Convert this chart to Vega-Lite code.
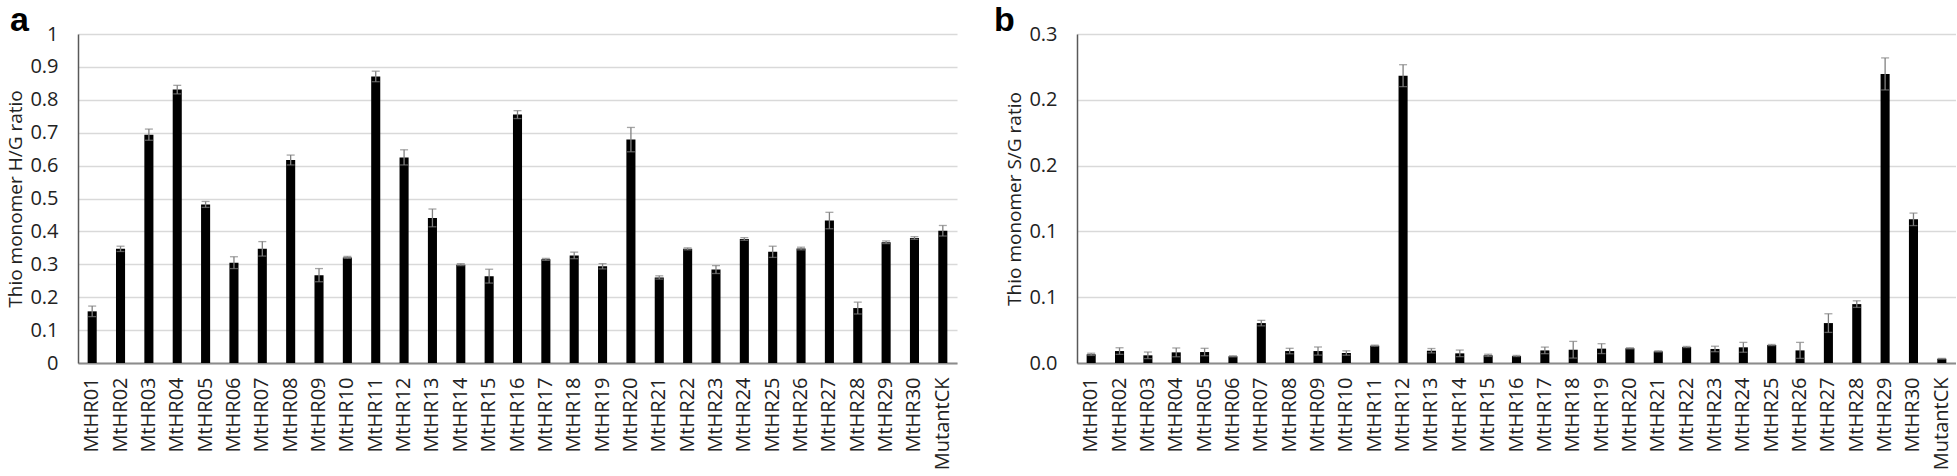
{
  "$schema": "https://vega.github.io/schema/vega-lite/v6.json",
  "background": "white",
  "padding": {"left": 6, "top": 4, "right": 0, "bottom": 0},
  "bounds": "flush",
  "spacing": 120,
  "config": {
    "font": "Open Sans",
    "view": {"stroke": null},
    "axisY": {
      "grid": true, "gridColor": "#d9d9d9", "gridWidth": 1.5,
      "domain": true, "domainColor": "#595959", "domainWidth": 1.5,
      "ticks": false, "labelFontSize": 20, "labelPadding": 20, "labelColor": "#222222", "labelOverlap": false,
      "titleFontSize": 19, "titleFontWeight": "normal", "titleColor": "#222222", "titlePadding": 4
    },
    "axisX": {
      "grid": false, "domainColor": "#8c8c8c", "domainWidth": 2, "ticks": false,
      "labelAngle": -90, "labelFontSize": 20, "labelPadding": 14, "labelColor": "#222222", "title": null, "labelOverlap": false
    },
    "title": {"fontSize": 34, "fontWeight": "bold", "font": "Liberation Sans", "color": "black", "anchor": "start", "frame": "bounds", "offset": -12, "baseline": "alphabetic"}
  },
  "datasets": {
    "hg": [
      {"name": "MtHR01", "value": 0.157, "err": 0.016},
      {"name": "MtHR02", "value": 0.347, "err": 0.008},
      {"name": "MtHR03", "value": 0.694, "err": 0.017},
      {"name": "MtHR04", "value": 0.831, "err": 0.013},
      {"name": "MtHR05", "value": 0.482, "err": 0.009},
      {"name": "MtHR06", "value": 0.305, "err": 0.018},
      {"name": "MtHR07", "value": 0.347, "err": 0.022},
      {"name": "MtHR08", "value": 0.617, "err": 0.015},
      {"name": "MtHR09", "value": 0.267, "err": 0.02},
      {"name": "MtHR10", "value": 0.321, "err": 0.003},
      {"name": "MtHR11", "value": 0.871, "err": 0.016},
      {"name": "MtHR12", "value": 0.625, "err": 0.023},
      {"name": "MtHR13", "value": 0.441, "err": 0.027},
      {"name": "MtHR14", "value": 0.299, "err": 0.003},
      {"name": "MtHR15", "value": 0.264, "err": 0.021},
      {"name": "MtHR16", "value": 0.755, "err": 0.012},
      {"name": "MtHR17", "value": 0.315, "err": 0.003},
      {"name": "MtHR18", "value": 0.327, "err": 0.01},
      {"name": "MtHR19", "value": 0.294, "err": 0.008},
      {"name": "MtHR20", "value": 0.679, "err": 0.037},
      {"name": "MtHR21", "value": 0.26, "err": 0.005},
      {"name": "MtHR22", "value": 0.347, "err": 0.003},
      {"name": "MtHR23", "value": 0.284, "err": 0.012},
      {"name": "MtHR24", "value": 0.377, "err": 0.004},
      {"name": "MtHR25", "value": 0.338, "err": 0.017},
      {"name": "MtHR26", "value": 0.348, "err": 0.004},
      {"name": "MtHR27", "value": 0.433, "err": 0.025},
      {"name": "MtHR28", "value": 0.167, "err": 0.018},
      {"name": "MtHR29", "value": 0.367, "err": 0.004},
      {"name": "MtHR30", "value": 0.38, "err": 0.004},
      {"name": "MutantCK", "value": 0.402, "err": 0.016}
    ],
    "sg": [
      {"name": "MtHR01", "value": 0.0079, "err": 0.001},
      {"name": "MtHR02", "value": 0.0109, "err": 0.003},
      {"name": "MtHR03", "value": 0.007, "err": 0.003},
      {"name": "MtHR04", "value": 0.0097, "err": 0.004},
      {"name": "MtHR05", "value": 0.01, "err": 0.0034},
      {"name": "MtHR06", "value": 0.0061, "err": 0.0005},
      {"name": "MtHR07", "value": 0.0364, "err": 0.0025},
      {"name": "MtHR08", "value": 0.0109, "err": 0.0025},
      {"name": "MtHR09", "value": 0.0109, "err": 0.0037},
      {"name": "MtHR10", "value": 0.0091, "err": 0.002},
      {"name": "MtHR11", "value": 0.0158, "err": 0.0005},
      {"name": "MtHR12", "value": 0.262, "err": 0.01},
      {"name": "MtHR13", "value": 0.0112, "err": 0.002},
      {"name": "MtHR14", "value": 0.0088, "err": 0.003},
      {"name": "MtHR15", "value": 0.007, "err": 0.001},
      {"name": "MtHR16", "value": 0.0064, "err": 0.0005},
      {"name": "MtHR17", "value": 0.0115, "err": 0.003},
      {"name": "MtHR18", "value": 0.0121, "err": 0.0076},
      {"name": "MtHR19", "value": 0.0131, "err": 0.0045},
      {"name": "MtHR20", "value": 0.0134, "err": 0.0005},
      {"name": "MtHR21", "value": 0.0106, "err": 0.0005},
      {"name": "MtHR22", "value": 0.0146, "err": 0.0005},
      {"name": "MtHR23", "value": 0.0128, "err": 0.0025},
      {"name": "MtHR24", "value": 0.0143, "err": 0.0045},
      {"name": "MtHR25", "value": 0.0164, "err": 0.0005},
      {"name": "MtHR26", "value": 0.0115, "err": 0.0073},
      {"name": "MtHR27", "value": 0.0364, "err": 0.0085},
      {"name": "MtHR28", "value": 0.0537, "err": 0.003},
      {"name": "MtHR29", "value": 0.2636, "err": 0.0146},
      {"name": "MtHR30", "value": 0.131, "err": 0.0057},
      {"name": "MutantCK", "value": 0.0039, "err": 0.0003}
    ]
  },
  "hconcat": [
    {
      "title": {"text": "a", "dx": 3, "dy": 2},
      "width": 879, "height": 329,
      "data": {"name": "hg"},
      "layer": [
        {
          "mark": {"type": "bar", "color": "black", "width": {"band": 0.32}},
          "encoding": {
            "x": {"field": "name", "type": "nominal", "sort": null, "scale": {"paddingInner": 0, "paddingOuter": 0}},
            "y": {"field": "value", "type": "quantitative", "title": "Thio monomer H/G ratio", "scale": {"domain": [0, 1], "nice": false},
                  "axis": {"values": [0, 0.1, 0.2, 0.3, 0.4, 0.5, 0.6, 0.7, 0.8, 0.9, 1], "tickCount": 11, "format": "~f", "labelOverlap": false}}
          }
        },
        {
          "mark": {"type": "errorbar", "color": "#808080", "thickness": 1.3, "ticks": {"size": 8, "color": "#808080"}},
          "encoding": {
            "x": {"field": "name", "type": "nominal", "sort": null},
            "y": {"field": "value", "type": "quantitative", "title": "Thio monomer H/G ratio"},
            "yError": {"field": "err"}
          }
        }
      ]
    },
    {
      "title": {"text": "b", "dx": -12, "dy": 2},
      "width": 879, "height": 329,
      "data": {"name": "sg"},
      "layer": [
        {
          "mark": {"type": "bar", "color": "black", "width": {"band": 0.32}},
          "encoding": {
            "x": {"field": "name", "type": "nominal", "sort": null, "scale": {"paddingInner": 0, "paddingOuter": 0}},
            "y": {"field": "value", "type": "quantitative", "title": "Thio monomer S/G ratio", "scale": {"domain": [0, 0.3], "nice": false},
                  "axis": {"values": [0, 0.06, 0.12, 0.18, 0.24, 0.3], "tickCount": 6, "format": ".1f", "labelOverlap": false}}
          }
        },
        {
          "mark": {"type": "errorbar", "color": "#808080", "thickness": 1.3, "ticks": {"size": 8, "color": "#808080"}},
          "encoding": {
            "x": {"field": "name", "type": "nominal", "sort": null},
            "y": {"field": "value", "type": "quantitative", "title": "Thio monomer S/G ratio"},
            "yError": {"field": "err"}
          }
        }
      ]
    }
  ]
}
